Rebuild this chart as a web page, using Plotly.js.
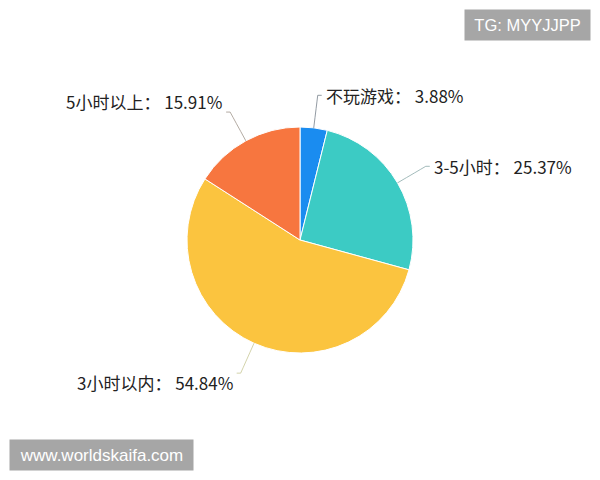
<!DOCTYPE html>
<html>
<head>
<meta charset="utf-8">
<script src="https://cdn.plot.ly/plotly-3.0.1.min.js"></script>
<style>html,body{margin:0;padding:0;background:#fff;}#chart{width:600px;height:480px;}</style>
</head>
<body>
<div id="chart"></div>
<script>
const categories = ["不玩游戏", "3-5小时", "3小时以内", "5小时以上"];
const values = [3.88, 25.37, 54.84, 15.91];
const colors = ["#1a8cf0", "#3ccbc4", "#fbc43f", "#f7763f"];
const lineColors = ["rgba(120,130,140,0.8)", "rgba(140,170,170,0.8)", "rgba(200,200,150,0.8)", "rgba(160,150,140,0.8)"];

const W = 600, H = 480;
const cx = 300, cy = 240, R = 113;

const total = values.reduce((a, b) => a + b, 0);
const annotations = [];
const shapes = [];
const px = x => x / W;
const py = y => 1 - y / H;

let cum = 0;
values.forEach((v, i) => {
  const mid = (cum + v / 2) / total * 2 * Math.PI;
  cum += v;
  const s = Math.sin(mid), c = Math.cos(mid);
  const ex = cx + R * s, ey = cy - R * c;
  const kx = cx + R * 1.29 * s, ky = cy - R * 1.29 * c;
  const right = s >= 0;
  const lx = kx + (right ? 6 : -6);
  let yanchor = 'middle';
  if (!right) yanchor = c > 0 ? 'bottom' : 'top';
  const ly = right ? ky : (c > 0 ? ky + 4 : ky - 5);
  const ctrlx = cx + R * 1.2 * s, ctrly = cy - R * 1.2 * c;
  shapes.push({
    type: 'path', xref: 'paper', yref: 'paper',
    path: `M ${px(ex)} ${py(ey)} Q ${px(ctrlx)} ${py(ctrly)} ${px(kx)} ${py(ky)} L ${px(kx + (right ? 4 : -4))} ${py(ky)}`,
    line: {color: lineColors[i], width: 1}
  });
  annotations.push({
    xref: 'paper', yref: 'paper', x: px(lx), y: py(ly),
    xanchor: right ? 'left' : 'right', yanchor: yanchor,
    text: categories[i] + '： ' + v.toFixed(2) + '%',
    showarrow: false,
    font: {family: '"Noto Sans CJK SC", "Noto Sans", sans-serif', size: 17, color: '#222'}
  });
});

// watermarks
annotations.push({
  xref: 'paper', yref: 'paper', x: px(527.5), y: py(25), xanchor: 'center', yanchor: 'middle',
  text: 'TG: MYYJJPP', showarrow: false, bgcolor: '#a6a6a6', borderpad: 0, width: 125, height: 30,
  font: {family: 'Liberation Sans, Arial, sans-serif', size: 16.5, color: '#fff'}
});
annotations.push({
  xref: 'paper', yref: 'paper', x: px(101.5), y: py(455), xanchor: 'center', yanchor: 'middle',
  text: 'www.worldskaifa.com', showarrow: false, bgcolor: '#a6a6a6', borderpad: 0, width: 183, height: 30,
  font: {family: 'Liberation Sans, Arial, sans-serif', size: 17, color: '#fff'}
});

const data = [{
  type: 'pie',
  labels: categories,
  values: values,
  sort: false,
  direction: 'clockwise',
  rotation: 0,
  marker: {colors: colors, line: {color: '#ffffff', width: 1}},
  textinfo: 'none',
  hoverinfo: 'label+percent',
  domain: {x: [(cx - R) / W, (cx + R) / W], y: [1 - (cy + R) / H, 1 - (cy - R) / H]}
}];

const layout = {
  width: W, height: H,
  margin: {l: 0, r: 0, t: 0, b: 0},
  paper_bgcolor: '#fff',
  showlegend: false,
  annotations: annotations,
  shapes: shapes
};

Plotly.newPlot('chart', data, layout, {displayModeBar: false, staticPlot: true});
</script>
</body>
</html>
